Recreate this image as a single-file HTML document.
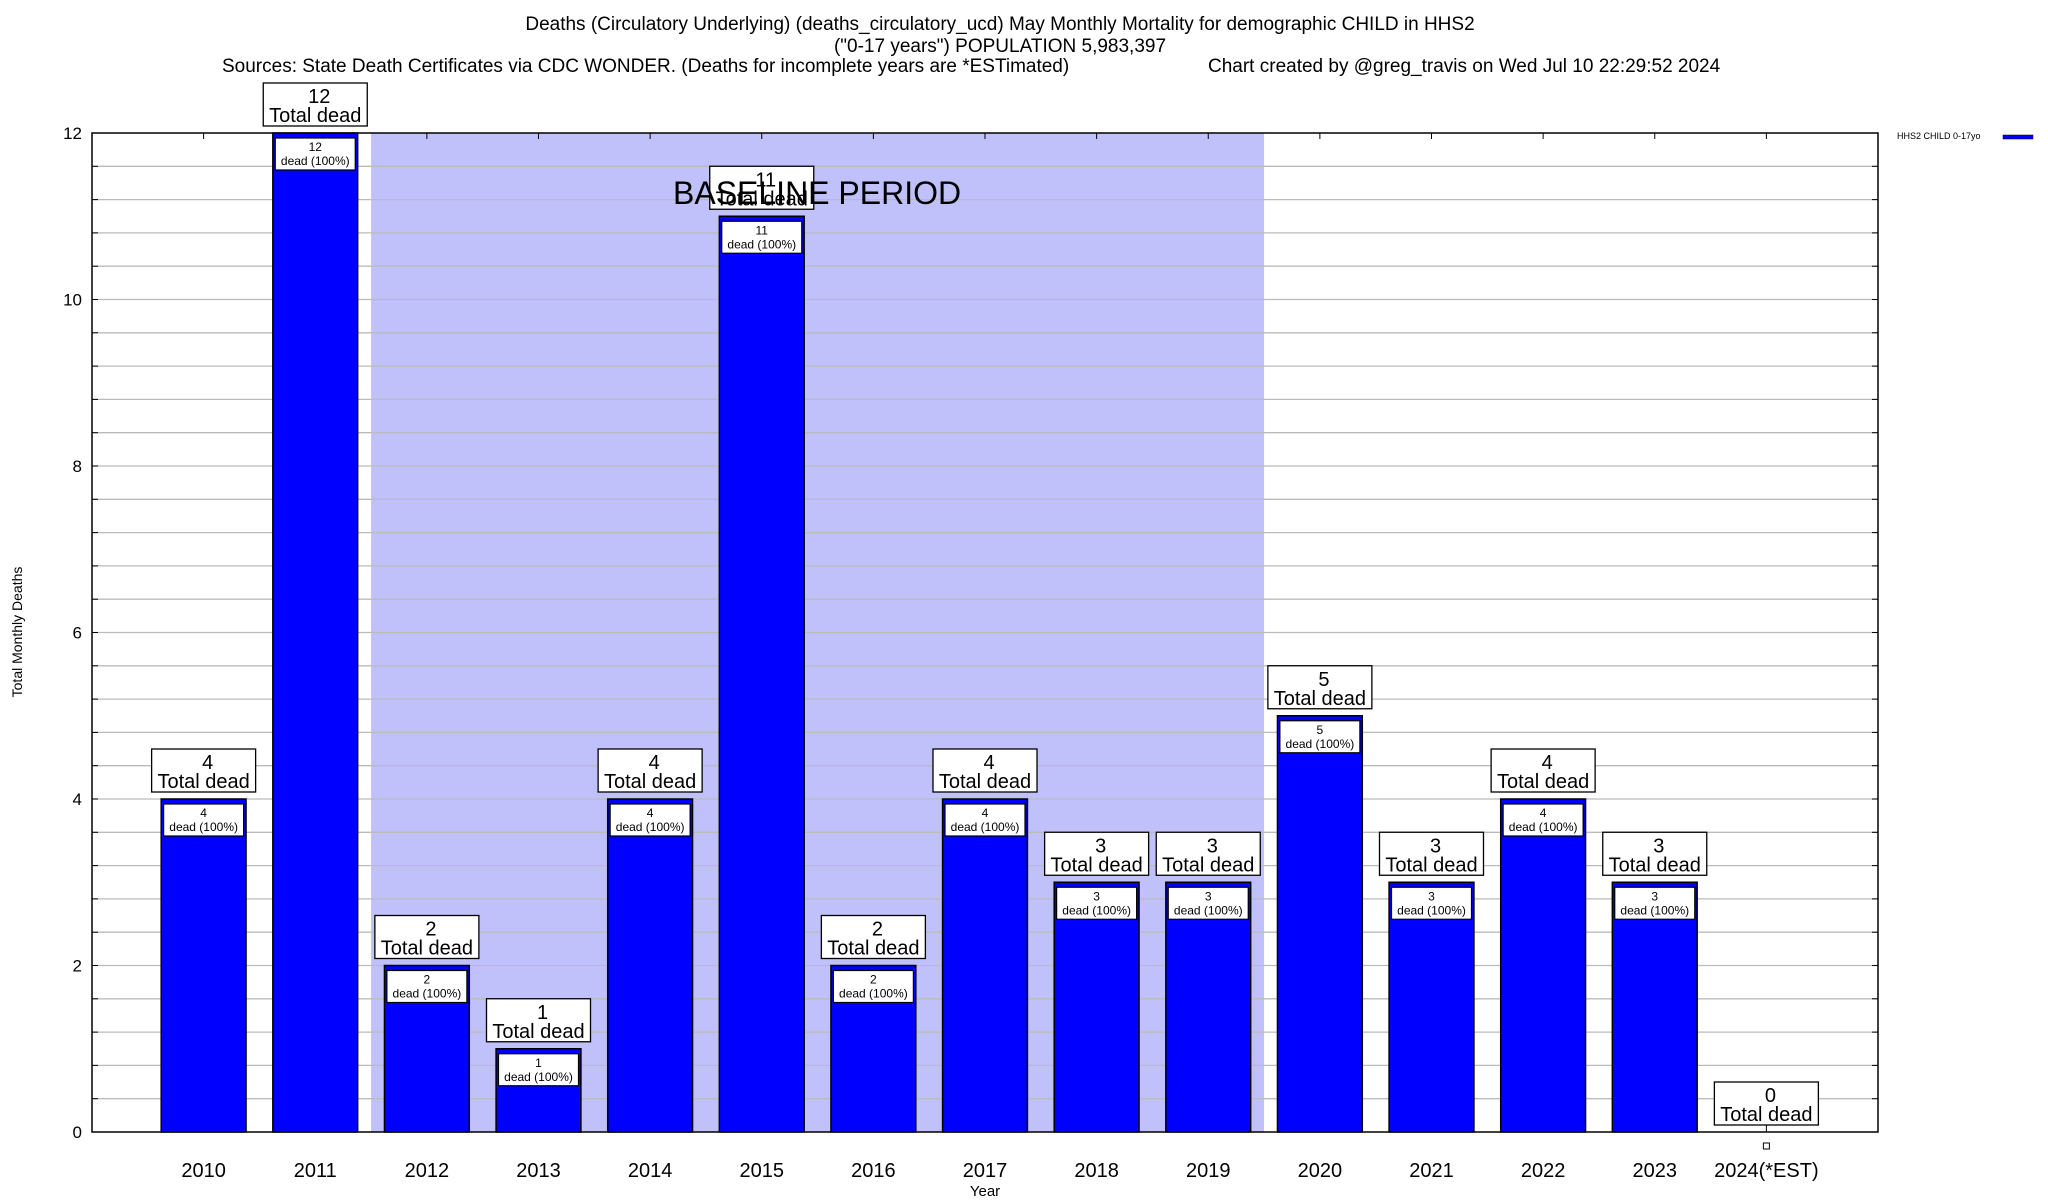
<!DOCTYPE html>
<html><head><meta charset="utf-8"><style>
html,body{margin:0;padding:0;background:#fff;}
svg{display:block;font-family:"Liberation Sans",sans-serif;}
</style></head><body>
<svg id="chart" width="2048" height="1200" viewBox="0 0 2048 1200">
<g font-size="19" text-anchor="middle" fill="#000">
<text x="1000" y="30">Deaths (Circulatory Underlying) (deaths_circulatory_ucd) May Monthly Mortality for demographic CHILD in HHS2</text>
<text x="1000" y="52">("0-17 years") POPULATION 5,983,397</text>
<text x="222" y="72" text-anchor="start">Sources: State Death Certificates via CDC WONDER. (Deaths for incomplete years are *ESTimated)</text>
<text x="1208" y="72" text-anchor="start">Chart created by @greg_travis on Wed Jul 10 22:29:52 2024</text>
</g>
<g id="plot"></g>
<text x="22" y="632" font-size="14" text-anchor="middle" transform="rotate(-90 22 632)">Total Monthly Deaths</text>
<text x="985" y="1196" font-size="15" text-anchor="middle">Year</text>
<g>
<text x="1897" y="139" font-size="9">HHS2 CHILD 0-17yo</text>
<rect x="2003" y="135" width="30" height="4" fill="#0000ff" stroke="#000" stroke-width="0.5"></rect>
</g>
</svg>
<script>
const categories = ["2010","2011","2012","2013","2014","2015","2016","2017","2018","2019","2020","2021","2022","2023","2024(*EST)"];
const deaths = [4,12,2,1,4,11,2,4,3,3,5,3,4,3,0];
const yTicks = [0,2,4,6,8,10,12];
const baselineStart = 2, baselineEnd = 9;

const NS = "http://www.w3.org/2000/svg";
const L=92,R=1878,T=133,B=1132,yMax=12;
const step=(R-L)/(categories.length+1);
const xs=i=>L+(i+1)*step;
const ys=v=>B-(v/yMax)*(B-T);
const plot=document.getElementById('plot');
function mk(tag,attrs,parent){const e=document.createElementNS(NS,tag);for(const k in attrs)e.setAttribute(k,attrs[k]);(parent||plot).appendChild(e);return e;}

// baseline shading
const sh=mk('rect',{x:xs(baselineStart)-step/2,y:T,width:(baselineEnd-baselineStart+1)*step,height:B-T,fill:'#c0c0fb'});


// grid
for(let v=0.4;v<yMax-0.01;v+=0.4){
 const g=mk('line',{x1:L,x2:R,y1:ys(v),y2:ys(v),stroke:'#bbb','stroke-width':1.3});
 
 
 mk('line',{x1:L,x2:L+6,y1:ys(v),y2:ys(v),stroke:'#000'});
 mk('line',{x1:R-6,x2:R,y1:ys(v),y2:ys(v),stroke:'#000'});
}
yTicks.forEach(v=>{
 const t=mk('text',{x:L-10,y:ys(v)+6,'font-size':17,'text-anchor':'end'});t.textContent=v;
 
 
});
categories.forEach((c,i)=>{
 const cx=xs(i);
 const t=mk('text',{x:cx,y:1177,'font-size':20,'text-anchor':'middle'});t.textContent=c;
 
 
 mk('line',{x1:cx,x2:cx,y1:T,y2:T+6,stroke:'#000'});
});
// baseline text drawn after bars later
categories.forEach((c,i)=>{
 const v=deaths[i],cx=xs(i),bw=step*0.76,y=ys(v);
 if(v>0){
  const b=mk('rect',{x:cx-bw/2,y:y,width:bw,height:B-y,fill:'#0000ff',stroke:'#000','stroke-width':1.5});
  
  
  const ib=mk('rect',{x:cx-40,y:y+5,width:80,height:32,fill:'#fff',stroke:'#000','stroke-width':1.2});
  
  
  const t1=mk('text',{x:cx,y:y+18,'font-size':12,'text-anchor':'middle'});t1.textContent=v;
  
  
  const t2=mk('text',{x:cx,y:y+32,'font-size':12,'text-anchor':'middle'});t2.textContent='dead (100%)';
  
  
 } else {
  mk('line',{x1:cx,x2:cx,y1:y-7,y2:B,stroke:'#000'});
  const m=mk('rect',{x:cx-3,y:1143,width:6,height:6,fill:'#fff',stroke:'#000'});
  
  
 }
 const ob=mk('rect',{x:cx-52,y:y-50,width:104,height:43,fill:'#fff',stroke:'#000','stroke-width':1.3});
 
 
 const o1=mk('text',{x:cx+4,y:y-30,'font-size':20,'text-anchor':'middle'});o1.textContent=v;
 
 
 const o2=mk('text',{x:cx,y:y-11,'font-size':20,'text-anchor':'middle'});o2.textContent='Total dead';
 
 
});
const bt=mk('text',{x:673,y:204,'font-size':32});bt.textContent='BASELINE PERIOD';


const fr=mk('rect',{x:L,y:T,width:R-L,height:B-T,fill:'none',stroke:'#000','stroke-width':1.5});


</script>
</body></html>
